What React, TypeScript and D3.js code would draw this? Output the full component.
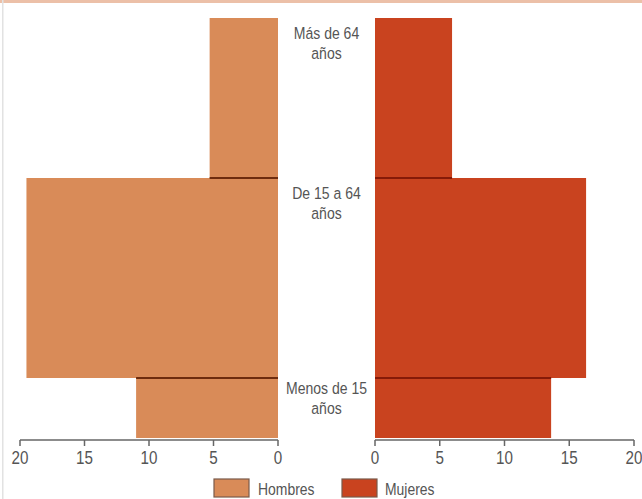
import React from "react";
import * as d3 from "d3";

const groups = ["Menos de 15|años", "De 15 a 64|años", "Más de 64|años"];
const ageStart = [0, 15, 65];
const ageEnd = [15, 65, 105];
const hombres = [11.0, 19.5, 5.3];
const mujeres = [13.6, 16.3, 5.95];
const ticks = [0, 5, 10, 15, 20];
const legendLabels = ["Hombres", "Mujeres"];

const W = 642;
const H = 499;
const FONT = "'Liberation Sans', Arial, sans-serif";
const C_H = "#d98b58";
const C_M = "#c9431f";
const D_H = "#6e2c0e";
const D_M = "#861a08";

function NText({ x, y, size, sx, anchor, children }: any) {
  return (
    <g transform={`translate(${x},${y}) scale(${sx},1)`}>
      <text x={0} y={0} dy="0.35em" textAnchor={anchor || "middle"} fontFamily={FONT} fontSize={size} fill="#555">
        {children}
      </text>
    </g>
  );
}

export default function App() {
  const xL = d3.scaleLinear().domain([0, 20]).range([278, 20]);
  const xR = d3.scaleLinear().domain([0, 20]).range([375, 634]);
  const y = d3.scaleLinear().domain([0, 105]).range([438, 18]);
  const axisY = 440;
  const midX = 326.5;

  const boundaries = ageStart.slice(1).map((a, i) => ({
    age: a,
    h: Math.min(hombres[i], hombres[i + 1]),
    m: Math.min(mujeres[i], mujeres[i + 1]),
  }));

  return (
    <div style={{ position: "absolute", left: 0, top: 0 }}>
      <svg width={W} height={H} style={{ display: "block", background: "#fff" }}>
        <rect x={0} y={0} width={W} height={3} fill="#ecc0a8" />
        <rect x={2} y={0} width={1.5} height={H} fill="#e2e2e2" />
        {groups.map((g, i) => (
          <g key={g}>
            <rect x={xL(hombres[i])} y={y(ageEnd[i])} width={xL(0) - xL(hombres[i])} height={y(ageStart[i]) - y(ageEnd[i])} fill={C_H} />
            <rect x={xR(0)} y={y(ageEnd[i])} width={xR(mujeres[i]) - xR(0)} height={y(ageStart[i]) - y(ageEnd[i])} fill={C_M} />
          </g>
        ))}
        {boundaries.map((b) => (
          <g key={b.age}>
            <line x1={xL(b.h)} x2={xL(0)} y1={y(b.age)} y2={y(b.age)} stroke={D_H} strokeWidth={2} />
            <line x1={xR(0)} x2={xR(b.m)} y1={y(b.age)} y2={y(b.age)} stroke={D_M} strokeWidth={2} />
          </g>
        ))}
        {groups.map((g, i) => {
          const top = y(ageEnd[i]);
          const h = y(ageStart[i]) - top;
          const c = top + Math.min(25, h / 3);
          const lines = g.split("|");
          return (
            <g key={g}>
              {lines.map((l, k) => (
                <NText key={k} x={midX} y={c - 10 + k * 20} size={16.5} sx={0.85}>{l}</NText>
              ))}
            </g>
          );
        })}
        {[xL, xR].map((sc, si) => (
          <g key={si}>
            <line x1={sc(0)} x2={sc(20)} y1={axisY} y2={axisY} stroke="#666" strokeWidth={1.5} />
            {ticks.map((t) => (
              <g key={t}>
                <line x1={sc(t)} x2={sc(t)} y1={axisY} y2={axisY + 6} stroke="#666" strokeWidth={1.5} />
                <NText x={sc(t)} y={457.5} size={19} sx={0.8}>{t}</NText>
              </g>
            ))}
          </g>
        ))}
        {legendLabels.map((l, i) => {
          const x0 = [214, 342][i];
          const tx = [258, 385][i];
          return (
            <g key={l}>
              <rect x={x0} y={479} width={35} height={18} fill={[C_H, C_M][i]} stroke="#7a5a4a" strokeWidth={1.2} />
              <NText x={tx} y={489} size={17} sx={0.82} anchor="start">{l}</NText>
            </g>
          );
        })}
      </svg>
    </div>
  );
}
